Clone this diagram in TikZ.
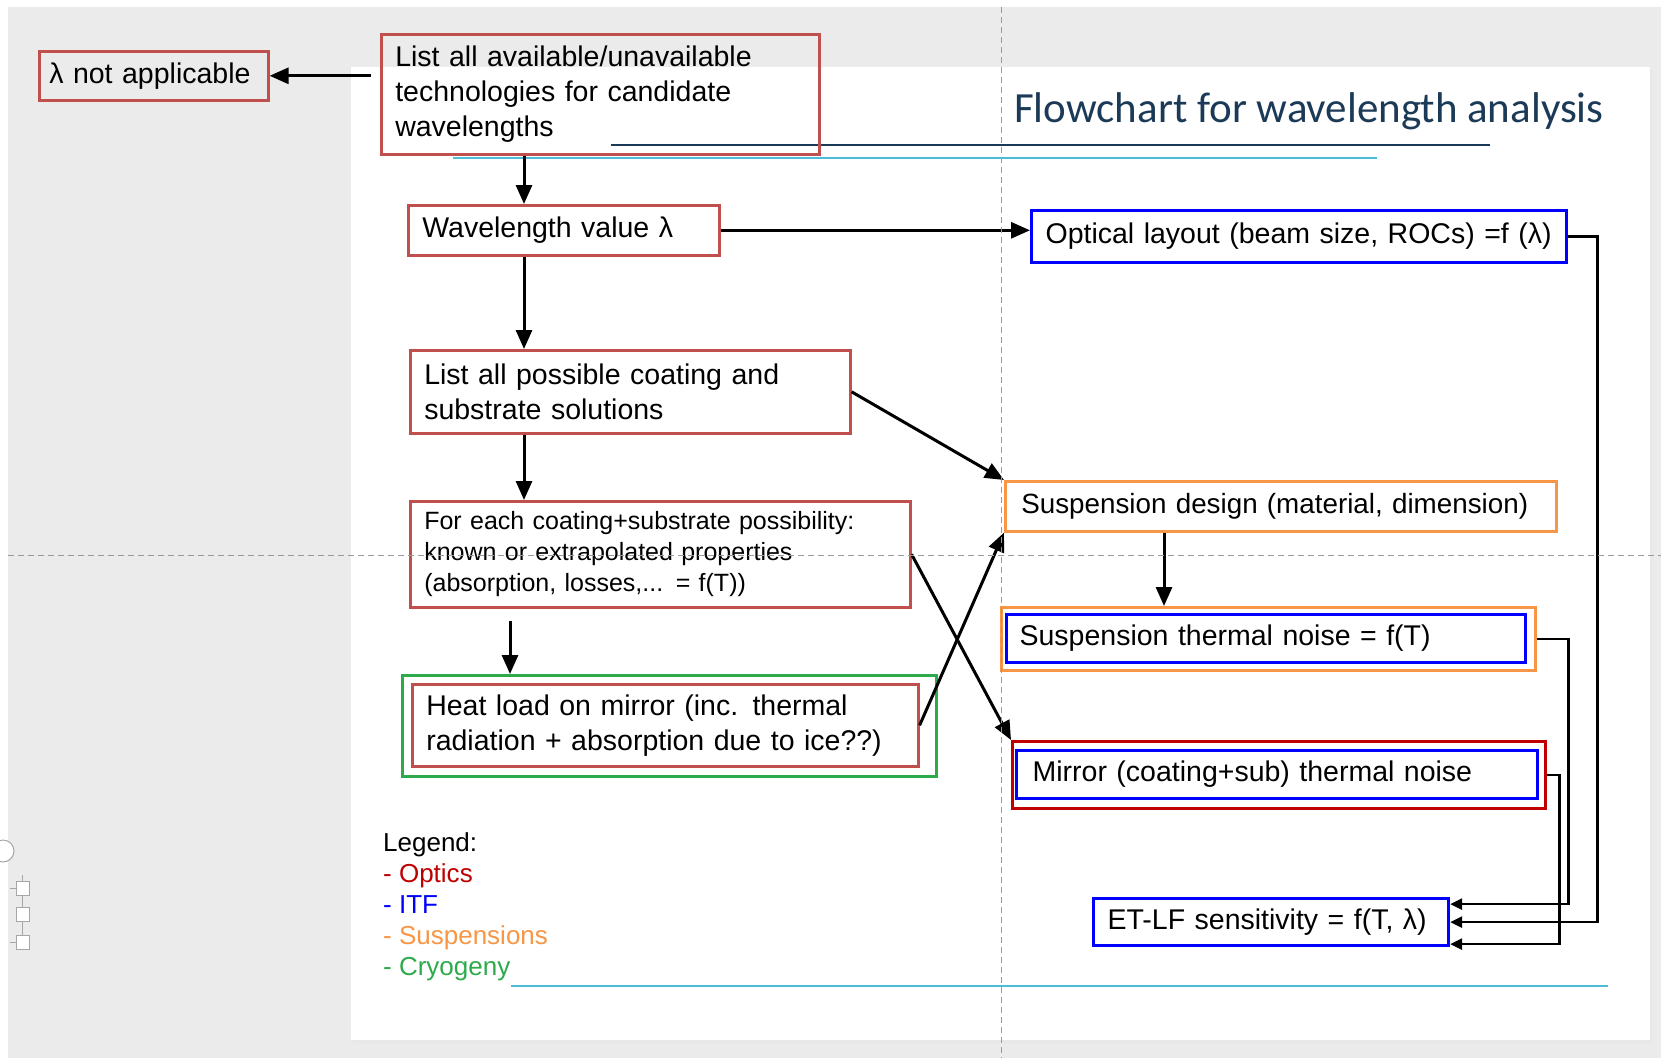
\documentclass[tikz,border=0pt]{standalone}
\usepackage{fontspec}
\setmainfont{Liberation Sans}
\newfontfamily\titlefont{Carlito}
\usetikzlibrary{arrows.meta}
\definecolor{optred}{HTML}{C0504D}
\definecolor{darkred}{HTML}{C00000}
\definecolor{itfblue}{HTML}{0000FF}
\definecolor{susorange}{HTML}{F79646}
\definecolor{cryogreen}{HTML}{2DAA4B}
\definecolor{titlenavy}{HTML}{1B3A57}
\definecolor{rulecyan}{HTML}{4BBDD6}
\definecolor{canvasgrey}{HTML}{EBEBEB}
\definecolor{guidegrey}{HTML}{9A9A9A}
\tikzset{
  box/.style={draw, line width=2.6pt, anchor=north west, inner xsep=14pt, inner ysep=2pt,
    align=left, text=black, font=\fontsize{28.5}{35}\selectfont},
  frame/.style={draw, line width=2.6pt, anchor=north west, inner sep=0pt},
  optics/.style={draw=optred},
  itf/.style={draw=itfblue, line width=3.2pt},
  susp/.style={draw=susorange},
  cryo/.style={draw=cryogreen},
  arr/.style={line width=3pt, -{Triangle[length=19pt,width=16pt]}},
  arrs/.style={line width=2.6pt, -{Triangle[length=12pt,width=11pt]}},
  guide/.style={guidegrey, line width=0.8pt, dash pattern=on 6pt off 4pt}
}
\begin{document}
\begin{tikzpicture}[x=1pt,y=-1pt]
\useasboundingbox (0,0) rectangle (1661,1058);
\fill[white] (0,0) rectangle (1661,1058);
\fill[canvasgrey] (8,7) rectangle (1661,1058);
\fill[black!9] (353,70) rectangle (1653,1044);
\fill[white] (351,67) rectangle (1650,1040);
\draw[titlenavy, line width=1.6pt] (611,145) -- (1490,145);
\draw[rulecyan, line width=1.6pt] (453,158) -- (1377,158);
\draw[rulecyan, line width=1.6pt] (511,986) -- (1608,986);

\draw[gray!70, fill=white, line width=1pt] (3,851) circle (11);
\draw[gray!70, line width=1pt] (22,875) -- (22,950) (10,888) -- (16,888) (10,942) -- (16,942);
\foreach \y in {888,914,942}
  \draw[gray!70, fill=white, line width=1pt] (16,\y-7) rectangle (29,\y+7);

\node[anchor=west, inner sep=0pt, text=titlenavy, font=\titlefont\fontsize{43}{50}\selectfont] (title) at (1014,111) {Flowchart for wavelength analysis};

\node[box, optics, minimum width=229pt, minimum height=49pt, inner xsep=10pt, text width=209pt] (na) at (38,50) {λ not applicable};
\node[box, optics, minimum width=438pt, minimum height=120pt, text width=410pt] (tech) at (380,33) {List all available/unavailable\\technologies for candidate\\wavelengths};
\node[box, optics, minimum width=311pt, minimum height=50pt, text width=283pt] (wav) at (407,204) {Wavelength value λ};
\node[box, itf, minimum width=535pt, minimum height=52pt, text width=507pt] (opt) at (1030,209) {Optical layout (beam size, ROCs) =f (λ)};
\node[box, optics, minimum width=440pt, minimum height=83pt, text width=412pt] (coat) at (409,349) {List all possible coating and\\substrate solutions};
\node[box, optics, minimum width=500pt, minimum height=106pt, text width=472pt, font=\fontsize{25}{31}\selectfont] (each) at (409,500) {For each coating+substrate possibility:\\known or extrapolated properties\\(absorption, losses,... = f(T))};
\node[frame, cryo, minimum width=534pt, minimum height=101pt] (heatout) at (401,674) {};
\node[box, optics, minimum width=506pt, minimum height=82pt, text width=478pt] (heat) at (411,683) {Heat load on mirror (inc. thermal\\radiation + absorption due to ice??)};
\node[box, susp, minimum width=551pt, minimum height=50pt, inner xsep=16pt, text width=519pt, font=\fontsize{27.8}{35}\selectfont] (susd) at (1004,480) {\mbox{Suspension design (material, dimension)}};
\node[frame, susp, minimum width=534pt, minimum height=63pt] (susout) at (1000,606) {};
\node[box, itf, minimum width=519pt, minimum height=48pt, inner xsep=13pt, text width=493pt] (sustn) at (1005,613) {Suspension thermal noise = f(T)};
\node[frame, draw=darkred, minimum width=533pt, minimum height=67pt] (mirout) at (1011,740) {};
\node[box, itf, minimum width=521pt, minimum height=48pt, inner xsep=16pt, text width=489pt] (mir) at (1015,749) {Mirror (coating+sub) thermal noise};
\node[box, itf, minimum width=355pt, minimum height=47pt, text width=327pt] (etlf) at (1092,897) {ET-LF sensitivity = f(T, λ)};

\node[anchor=west, align=left, inner sep=0pt, font=\fontsize{26}{31}\selectfont] (legend) at (383,907) {Legend:\\\textcolor{darkred}{- Optics}\\\textcolor{itfblue}{- ITF}\\\textcolor{susorange}{- Suspensions}\\\textcolor{cryogreen}{- Cryogeny}};

\coordinate (spine) at (524,0);
\coordinate (drop) at (510,0);
\coordinate (susx) at (1164,0);
\path (tech.west |- na.east) ++(-9,0) coordinate (techout);
\path (each.south -| drop) ++(0,12) coordinate (dropstart);

\draw[arr] (techout) -- (na.east);
\draw[arr] (tech.south -| spine) -- (wav.north -| spine);
\draw[arr] (wav.east) -- (wav.east -| opt.west);
\draw[arr] (wav.south -| spine) -- (coat.north -| spine);
\draw[arr] (coat.south -| spine) -- (each.north -| spine);
\draw[arr] (coat.east) -- (susd.north west);
\draw[arr] (dropstart) -- (heatout.north -| drop);
\draw[arr] (each.east) -- (mirout.north west);
\draw[arr] (heat.east) -- (susd.south west);
\draw[arr] (susd.south -| susx) -- (susout.north -| susx);
\draw[arrs] (opt.east) -- ++(29,0) |- (etlf.east);
\draw[arrs] (susout.east) -- ++(32,0) |- ([yshift=18pt]etlf.east);
\draw[arrs] (mirout.east) -- ++(13,0) |- ([yshift=-22pt]etlf.east);

\draw[guide] (1001,7) -- (1001,1058);
\draw[guide] (8,555) -- (1661,555);
\end{tikzpicture}
\end{document}
